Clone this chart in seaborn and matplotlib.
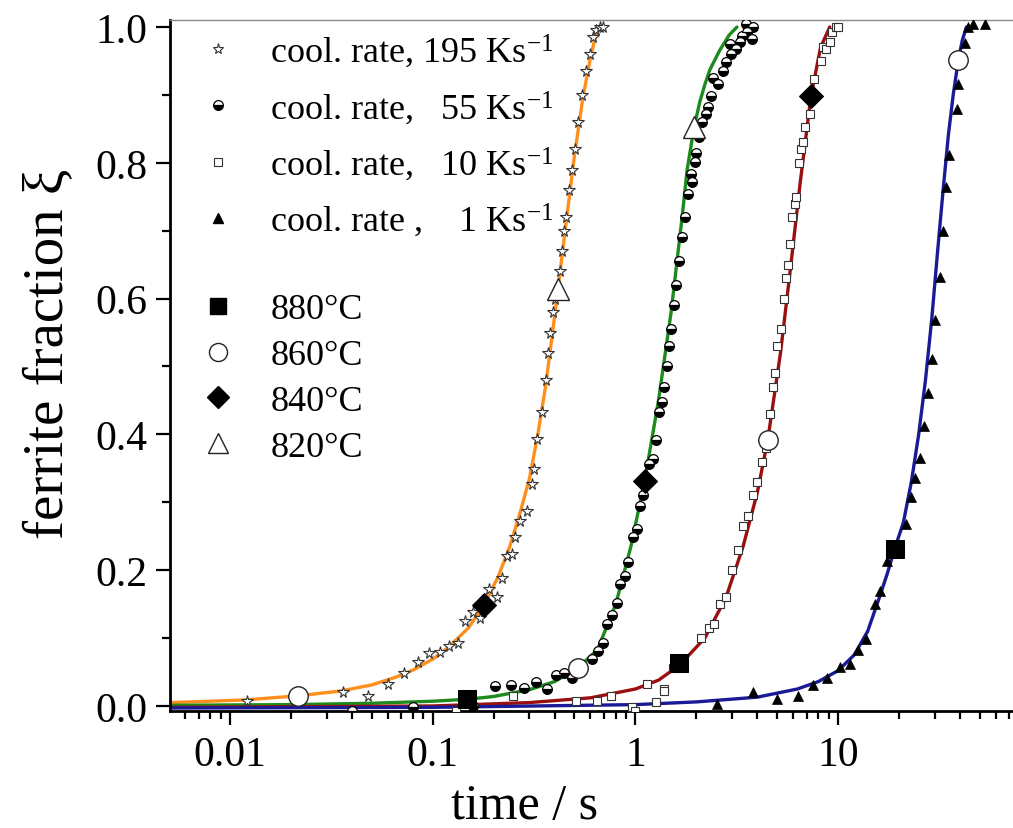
import matplotlib
matplotlib.use("Agg")
import matplotlib.pyplot as plt
import seaborn as sns
import pandas as pd
from matplotlib.lines import Line2D
from matplotlib.ticker import FixedLocator, LogLocator, NullFormatter, MultipleLocator, FixedFormatter

# ---------------- data ----------------
# fitted curves
fit195_t = [0.00505, 0.008, 0.012, 0.0216, 0.035, 0.05, 0.065, 0.08, 0.1, 0.12, 0.15, 0.179, 0.21, 0.24,
            0.27, 0.30, 0.33, 0.36, 0.39, 0.415, 0.45, 0.5, 0.55, 0.6, 0.64, 0.668]
fit195_f = [0.005, 0.007, 0.009, 0.015, 0.022, 0.031, 0.042, 0.053, 0.069, 0.087, 0.115, 0.149, 0.19, 0.235,
            0.285, 0.335, 0.40, 0.47, 0.55, 0.614, 0.70, 0.81, 0.895, 0.955, 0.99, 1.0]

fit55_t = [0.00505, 0.02, 0.05, 0.1, 0.15, 0.2, 0.3, 0.4, 0.52, 0.65, 0.8, 0.95, 1.11, 1.3, 1.5, 1.7,
           1.8, 1.95, 2.08, 2.2, 2.33, 2.61, 2.9, 3.17]
fit55_f = [0.001, 0.002, 0.004, 0.007, 0.01, 0.014, 0.024, 0.036, 0.056, 0.083, 0.15, 0.235, 0.331, 0.45,
           0.58, 0.72, 0.79, 0.853, 0.89, 0.915, 0.937, 0.966, 0.988, 1.0]

fit10_t = [0.00505, 0.1, 0.3, 0.6, 1.0, 1.3, 1.65, 2.2, 2.8, 3.4, 4.0, 4.5, 5.2, 5.8, 6.5, 7.35, 8.2, 9.1]
fit10_f = [-0.002, 0.0, 0.005, 0.012, 0.025, 0.038, 0.06, 0.1, 0.16, 0.235, 0.315, 0.392, 0.52, 0.64, 0.77,
           0.898, 0.97, 1.0]

fit1_t = [0.00505, 0.1, 1.0, 2.0, 4.0, 6.3, 8.0, 10.0, 12.0, 14.0, 16.0, 17.5, 19.0, 21.0, 23.0, 25.0,
          27.0, 29.0, 31.0, 33.0, 35.0, 37.0, 39.2, 41.0, 43.0]
fit1_f = [-0.003, -0.002, 0.002, 0.006, 0.013, 0.025, 0.036, 0.052, 0.075, 0.11, 0.16, 0.195, 0.231, 0.27,
          0.33, 0.40, 0.48, 0.57, 0.67, 0.76, 0.84, 0.9, 0.951, 0.98, 1.0]

# measured points
meas195_t = [0.0121, 0.036, 0.048, 0.060, 0.072, 0.0845, 0.096, 0.109, 0.12, 0.133, 0.144, 0.158, 0.171,
             0.19, 0.207, 0.22, 0.233, 0.245, 0.255, 0.269, 0.292, 0.309, 0.316, 0.327, 0.346, 0.362, 0.371,
             0.38, 0.392, 0.40, 0.425, 0.435, 0.445, 0.455, 0.47, 0.486, 0.503, 0.521, 0.546, 0.571, 0.597,
             0.62, 0.64, 0.668, 0.69]
meas195_f = [0.007, 0.02, 0.015, 0.032, 0.049, 0.065, 0.078, 0.079, 0.089, 0.093, 0.125, 0.139, 0.13,
             0.172, 0.16, 0.188, 0.221, 0.224, 0.249, 0.272, 0.287, 0.327, 0.349, 0.393, 0.433, 0.48, 0.52,
             0.55, 0.58, 0.60, 0.64, 0.67, 0.70, 0.72, 0.76, 0.79, 0.82, 0.86, 0.90, 0.935, 0.96,
             0.985, 0.995, 1.0, 1.0]

meas55_t = [0.04, 0.08, 0.158, 0.203, 0.243, 0.282, 0.323, 0.367, 0.406, 0.444, 0.487, 0.61, 0.654, 0.692,
            0.724, 0.767, 0.813, 0.84, 0.89, 0.92, 0.977, 1.02, 1.055, 1.09, 1.17, 1.22, 1.26, 1.31, 1.35,
            1.38, 1.43, 1.47, 1.5, 1.55, 1.59, 1.64, 1.70, 1.76, 1.82, 1.88, 1.9, 1.97, 1.99, 2.06, 2.13,
            2.23, 2.28, 2.36, 2.42, 2.55, 2.7, 2.8, 2.92, 2.95, 3.13, 3.28, 3.36, 3.5, 3.55, 3.76, 3.8]
meas55_f = [-0.007, -0.001, 0.0, 0.03, 0.031, 0.027, 0.035, 0.025, 0.046, 0.049, 0.041, 0.069, 0.081,
            0.093, 0.121, 0.134, 0.152, 0.18, 0.191, 0.212, 0.249, 0.261, 0.295, 0.31, 0.356, 0.364, 0.392,
            0.433, 0.448, 0.47, 0.50, 0.53, 0.555, 0.59, 0.62, 0.655, 0.69, 0.72, 0.754, 0.783, 0.772,
            0.801, 0.814, 0.838, 0.86, 0.872, 0.882, 0.898, 0.925, 0.916, 0.935, 0.948, 0.975, 0.96, 0.968,
            0.978, 0.987, 1.004, 0.993, 0.982, 1.0]

meas10_t = [0.13, 0.249, 0.51, 0.65, 0.76, 0.96, 1.0, 1.14, 1.27, 1.38, 1.39, 1.53, 1.62, 2.1, 2.3, 2.45,
            2.6, 2.8, 3.0, 3.2, 3.4, 3.6, 3.8, 4.0, 4.2, 4.4, 4.6, 4.75, 4.9, 5.0, 5.2, 5.4, 5.55, 5.65,
            5.8, 5.95, 6.1, 6.2, 6.4, 6.55, 6.7, 6.9, 7.3, 7.6, 8.2, 8.4, 8.7, 9.1, 9.3, 9.8, 10.0]
meas10_f = [-0.007, 0.015, 0.007, 0.007, 0.015, -0.001, -0.007, 0.032, 0.006, 0.025, 0.022, 0.056, 0.059,
            0.10, 0.115, 0.12, 0.15, 0.16, 0.20, 0.23, 0.265, 0.28, 0.31, 0.33, 0.36, 0.38, 0.43, 0.47,
            0.49, 0.53, 0.555, 0.6, 0.63, 0.65, 0.68, 0.72, 0.74, 0.75, 0.8, 0.82, 0.83, 0.853, 0.872,
            0.923, 0.95, 0.97, 0.968, 0.978, 0.993, 1.0, 1.0]

meas1_t = [2.53, 3.8, 5.0, 6.37, 7.55, 8.79, 10.2, 11.4, 12.6, 13.8, 15.2, 16.1, 17.4, 21.6, 22.8, 23.9,
           25.3, 26.5, 27.9, 29.0, 30.1, 31.8, 32.8, 34.1, 35.4, 38.5, 39.2, 42.3, 43.9, 46.4, 53.0]
meas1_f = [0.003, 0.02, 0.01, 0.015, 0.031, 0.041, 0.058, 0.062, 0.082, 0.099, 0.15, 0.17, 0.214, 0.268,
           0.308, 0.336, 0.365, 0.412, 0.461, 0.511, 0.568, 0.632, 0.70, 0.764, 0.811, 0.879, 0.916,
           0.976, 1.0, 1.005, 1.005]

# temperature markers
t880_t = [0.148, 1.65, 19.0]
t880_f = [0.01, 0.064, 0.231]
t860_t = [0.0216, 0.52, 4.5, 39.2]
t860_f = [0.0147, 0.056, 0.392, 0.951]
t840_t = [0.179, 1.11, 7.35]
t840_f = [0.149, 0.331, 0.898]
t820_t = [0.415, 1.95]
t820_f = [0.614, 0.853]

rate_labels = ["cool. rate, 195 Ks$^{-1}$", "cool. rate,   55 Ks$^{-1}$",
               "cool. rate,   10 Ks$^{-1}$", "cool. rate ,    1 Ks$^{-1}$"]
temp_labels = ["880°C", "860°C", "840°C", "820°C"]
xtick_vals = [0.01, 0.1, 1, 10]
xtick_labels = ["0.01", "0.1", "1", "10"]
ytick_vals = [0.0, 0.2, 0.4, 0.6, 0.8, 1.0]
ytick_labels = ["0.0", "0.2", "0.4", "0.6", "0.8", "1.0"]

# ---------------- style ----------------
sns.set_style("ticks")
plt.rcParams["font.family"] = ["Liberation Serif", "DejaVu Serif"]
plt.rcParams["mathtext.fontset"] = "custom"
plt.rcParams["mathtext.rm"] = "Liberation Serif"
plt.rcParams["mathtext.it"] = "Liberation Serif:italic"
plt.rcParams["mathtext.bf"] = "Liberation Serif:bold"
plt.rcParams["text.color"] = "black"
plt.rcParams["axes.labelcolor"] = "black"

W, H = 1013, 829
fig = plt.figure(figsize=(W / 100, H / 100), dpi=100)
ax_l, ax_r, ax_t, ax_b = 170, 1013, 21, 712
ax = fig.add_axes([ax_l / W, 1 - ax_b / H, (ax_r - ax_l) / W, (ax_b - ax_t) / H])

c_or, c_gr, c_rd, c_bl = "#ff8f1c", "#1c8a1c", "#9a0f0f", "#1a1a96"

for t, f, c in [(fit195_t, fit195_f, c_or), (fit55_t, fit55_f, c_gr),
                (fit10_t, fit10_f, c_rd), (fit1_t, fit1_f, c_bl)]:
    sns.lineplot(x=t, y=f, ax=ax, color=c, lw=2.4, estimator=None, sort=False, zorder=2)

mk = dict(estimator=None, sort=False, linestyle="none", zorder=3)
sns.lineplot(x=meas195_t, y=meas195_f, ax=ax, marker="*", ms=8.5, mfc="white", mec="#333333", mew=0.8,
             color="#333333", **mk)
sns.lineplot(x=meas55_t, y=meas55_f, ax=ax, marker="o", ms=7, fillstyle="bottom", mfc="black",
             markerfacecoloralt="white", mec="black", mew=0.9, color="black", **mk)
sns.lineplot(x=meas10_t, y=meas10_f, ax=ax, marker="s", ms=6, mfc="white", mec="#333333", mew=0.8,
             color="#333333", **mk)
sns.lineplot(x=meas1_t, y=meas1_f, ax=ax, marker="^", ms=7, mfc="black", mec="black", mew=0.5,
             color="black", **mk)

big = dict(estimator=None, sort=False, linestyle="none", zorder=5)
sns.lineplot(x=t880_t, y=t880_f, ax=ax, marker="s", ms=12.5, mfc="black", mec="black", color="black", **big)
sns.lineplot(x=t860_t, y=t860_f, ax=ax, marker="o", ms=14, mfc="white", mec="#222222", mew=1.0,
             color="black", **big)
sns.lineplot(x=t840_t, y=t840_f, ax=ax, marker="D", ms=12, mfc="black", mec="black", color="black", **big)
sns.lineplot(x=t820_t, y=t820_f, ax=ax, marker="^", ms=16, mfc="white", mec="#222222", mew=1.0,
             color="black", **big)

ax.set_xscale("log")
ax.set_xlim(0.00505, 73)
ax.set_ylim(-0.0074, 1.0103)

ax.xaxis.set_major_locator(FixedLocator(xtick_vals))
ax.xaxis.set_major_formatter(FixedFormatter(xtick_labels))
ax.xaxis.set_minor_locator(LogLocator(base=10, subs=[2, 3, 4, 5, 6, 7, 8, 9], numticks=20))
ax.xaxis.set_minor_formatter(NullFormatter())
ax.yaxis.set_major_locator(FixedLocator(ytick_vals))
ax.yaxis.set_major_formatter(FixedFormatter(ytick_labels))
ax.yaxis.set_minor_locator(MultipleLocator(0.1))

ax.tick_params(axis="both", which="major", direction="out", length=10, width=1.6,
               labelsize=30, color="black", labelcolor="black")
ax.tick_params(axis="both", which="minor", direction="out", length=6, width=1.6, color="black")
ax.tick_params(axis="x", which="major", pad=8)
ax.tick_params(axis="y", which="major", pad=6)

for s in ["left", "bottom"]:
    ax.spines[s].set_linewidth(2.0)
    ax.spines[s].set_color("black")
ax.spines["top"].set_linewidth(1.0)
ax.spines["top"].set_color("#888888")
ax.spines["right"].set_visible(False)

ax.set_xlabel("time / s", fontsize=36, color="black")
ax.set_ylabel("ferrite fraction ξ", fontsize=41, color="black")
ax.xaxis.set_label_coords((524 - ax_l) / (ax_r - ax_l), -0.103)
ax.yaxis.set_label_coords(-0.113, 0.518)

# legends
h1 = [Line2D([], [], ls="none", marker="*", ms=8, mfc="white", mec="#333333", mew=0.8),
      Line2D([], [], ls="none", marker="o", ms=7, fillstyle="bottom", mfc="black",
             markerfacecoloralt="white", mec="black", mew=0.9),
      Line2D([], [], ls="none", marker="s", ms=6, mfc="white", mec="#333333", mew=0.8),
      Line2D([], [], ls="none", marker="^", ms=7, mfc="black", mec="black")]
h2 = [Line2D([], [], ls="none", marker="s", ms=12, mfc="black", mec="black"),
      Line2D([], [], ls="none", marker="o", ms=13, mfc="white", mec="#222222", mew=1.0),
      Line2D([], [], ls="none", marker="D", ms=11, mfc="black", mec="black"),
      Line2D([], [], ls="none", marker="^", ms=14, mfc="white", mec="#222222", mew=1.0)]

def px2ax(x, y):
    return ((x - ax_l) / (ax_r - ax_l), (ax_b - y) / (ax_b - ax_t))

leg1 = ax.legend(h1, rate_labels, loc="upper left", bbox_to_anchor=px2ax(200, 33), frameon=False,
                 fontsize=26, handlelength=1.0, handletextpad=0.95, labelspacing=0.52,
                 borderpad=0, borderaxespad=0)
for tx in leg1.get_texts():
    tx.set_color("black")
ax.add_artist(leg1)
leg2 = ax.legend(h2, temp_labels, loc="upper left", bbox_to_anchor=px2ax(200, 294), frameon=False,
                 fontsize=26, handlelength=1.0, handletextpad=0.95, labelspacing=0.35,
                 borderpad=0, borderaxespad=0)
for tx in leg2.get_texts():
    tx.set_color("black")

fig.savefig("out.png", dpi=100)
